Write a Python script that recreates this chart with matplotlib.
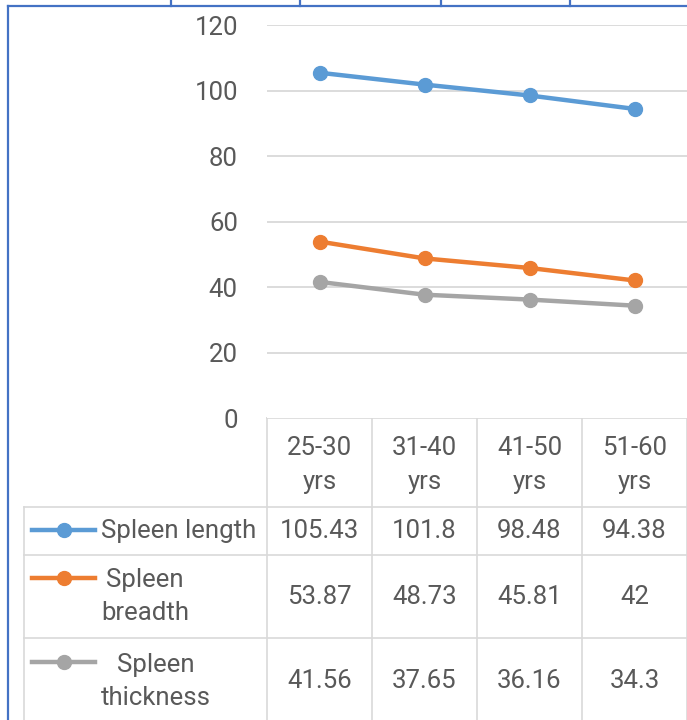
import matplotlib
matplotlib.use("Agg")
import matplotlib.pyplot as plt
import numpy as np

plt.rcParams['font.family'] = ['Roboto', 'DejaVu Sans']

# data
categories = ['25-30\nyrs', '31-40\nyrs', '41-50\nyrs', '51-60\nyrs']
series_names = ['Spleen length', 'Spleen\nbreadth', 'Spleen\nthickness']
spleen_length = [105.43, 101.8, 98.48, 94.38]
spleen_breadth = [53.87, 48.73, 45.81, 42]
spleen_thickness = [41.56, 37.65, 36.16, 34.3]
value_labels = [['105.43', '101.8', '98.48', '94.38'],
                ['53.87', '48.73', '45.81', '42'],
                ['41.56', '37.65', '36.16', '34.3']]
yticks = [0, 20, 40, 60, 80, 100, 120]

colors = ['#5B9BD5', '#ED7D31', '#A5A5A5']
txt = '#595959'
grid = '#D9D9D9'
fs = 18.5

W, H = 687, 720
fig = plt.figure(figsize=(W / 100, H / 100), dpi=100)

# overlay in pixel coordinates (frame, table)
ov = fig.add_axes([0, 0, 1, 1])
ov.set_xlim(0, W)
ov.set_ylim(H, 0)
ov.axis('off')

# plot area
x0, x1, ytop, ybot = 267, 687, 25, 418
ax = fig.add_axes([x0 / W, 1 - ybot / H, (x1 - x0) / W, (ybot - ytop) / H])
ax.set_xlim(-0.5, 3.5)
ax.set_ylim(0, 120)
for s in ax.spines.values():
    s.set_visible(False)
ax.set_xticks([])
ax.set_yticks(yticks)
ax.set_yticklabels([str(v) for v in yticks])
ax.tick_params(axis='y', length=0, pad=21, labelsize=fs, labelcolor=txt)
for v in yticks[1:]:
    ax.axhline(v, color=grid, lw=1.3, zorder=0)

xs = np.arange(len(categories))
for vals, c in zip([spleen_length, spleen_breadth, spleen_thickness], colors):
    ax.plot(xs, vals, color=c, lw=3.2, marker='o', ms=10, zorder=3, clip_on=False)

# blue document frame
blue = '#4472C4'
ov.plot([8, 8], [6, H], color=blue, lw=1.6)
ov.plot([8, W], [6, 6], color=blue, lw=1.6)
for xt in [171, 300, 441, 570]:
    ov.plot([xt, xt], [0, 6], color=blue, lw=1.6)

# data table
colx = [267, 372, 477, 582, 687]
rowy = [418, 507, 555, 638, 725]
lw_t = 1.2
ov.plot([267, W], [418, 418], color=grid, lw=lw_t)
for xv in colx:
    ov.plot([xv, xv], [418, 725], color=grid, lw=lw_t)
for yv in rowy[1:]:
    ov.plot([24, W], [yv, yv], color=grid, lw=lw_t)
ov.plot([24, 24], [507, 725], color=grid, lw=lw_t)

for i, cat in enumerate(categories):
    cx = (colx[i] + colx[i + 1]) / 2
    ov.text(cx, 465, cat, ha='center', va='center', fontsize=fs, color=txt,
            linespacing=1.55)

key_y = [530, 578, 662]
for r, name in enumerate(series_names):
    cy = (rowy[r + 1] + rowy[r + 2]) / 2
    ov.plot([32, 95], [key_y[r], key_y[r]], color=colors[r], lw=3.2)
    ov.plot([64], [key_y[r]], 'o', color=colors[r], ms=10)
    ov.text(101, cy, name, ha='left', va='center', fontsize=fs, color=txt,
            multialignment='center', linespacing=1.5)
    for i, lab in enumerate(value_labels[r]):
        cx = (colx[i] + colx[i + 1]) / 2
        ov.text(cx, cy, lab, ha='center', va='center', fontsize=fs, color=txt)

fig.savefig('out.png', dpi=100)
